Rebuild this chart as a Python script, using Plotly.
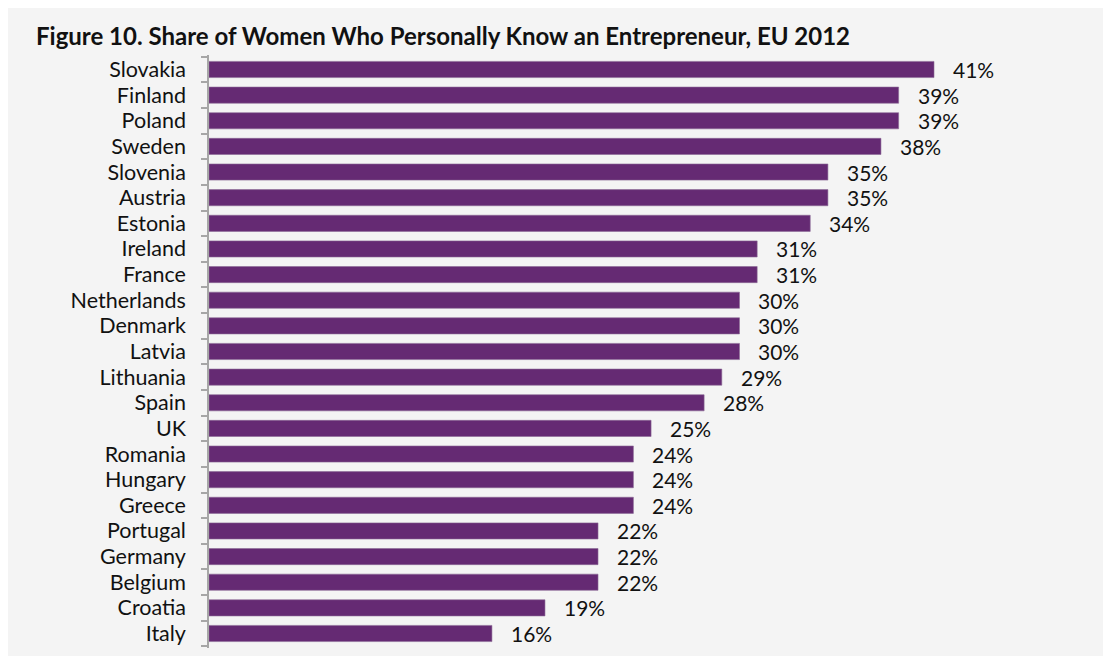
import plotly.graph_objects as go

countries = [
    "Slovakia", "Finland", "Poland", "Sweden", "Slovenia", "Austria",
    "Estonia", "Ireland", "France", "Netherlands", "Denmark", "Latvia",
    "Lithuania", "Spain", "UK", "Romania", "Hungary", "Greece",
    "Portugal", "Germany", "Belgium", "Croatia", "Italy",
]
shares = [41, 39, 39, 38, 35, 35, 34, 31, 31, 30, 30, 30,
          29, 28, 25, 24, 24, 24, 22, 22, 22, 19, 16]
labels = [f"{v}%" for v in shares]

W, H = 1111, 656
ML, MR, MT, MB = 201, 0, 47, 16
pw = W - ML - MR

fig = go.Figure(
    go.Bar(
        x=shares,
        y=countries,
        orientation="h",
        marker=dict(color="#652a73", line=dict(color="#8c6a95", width=0.6)),
        width=0.63,
        hoverinfo="x+y",
    )
)

# value labels to the right of each bar
for c, v, t in zip(countries, shares, labels):
    fig.add_annotation(
        x=v, y=c, text=t, showarrow=False,
        xanchor="left", xshift=17,
        font=dict(family="Lato", size=21, color="#111111"),
    )

fig.update_layout(
    width=W,
    height=H,
    margin=dict(l=ML, r=MR, t=MT, b=MB),
    paper_bgcolor="#f4f4f4",
    plot_bgcolor="#f4f4f4",
    showlegend=False,
    title=dict(
        text="<b>Figure 10. Share of Women Who Personally Know an Entrepreneur, EU 2012</b>",
        x=28 / W, xanchor="left",
        y=1 - 29 / H, yanchor="middle",
        font=dict(family="Lato", size=24, color="#111111"),
    ),
    xaxis=dict(
        range=[0, pw / (725 / 41)],
        visible=False,
        fixedrange=True,
    ),
    yaxis=dict(
        autorange="reversed",
        tickmode="array",
        tickvals=countries,
        showline=True,
        linecolor="#a6a6a6",
        linewidth=1.5,
        ticks="outside",
        tickson="boundaries",
        ticklen=6,
        tickcolor="#a6a6a6",
        tickwidth=1.5,
        ticklabelstandoff=17,
        showgrid=False,
        tickfont=dict(family="Lato", size=21.5, color="#111111"),
    ),
)

fig.write_html("out.html")
